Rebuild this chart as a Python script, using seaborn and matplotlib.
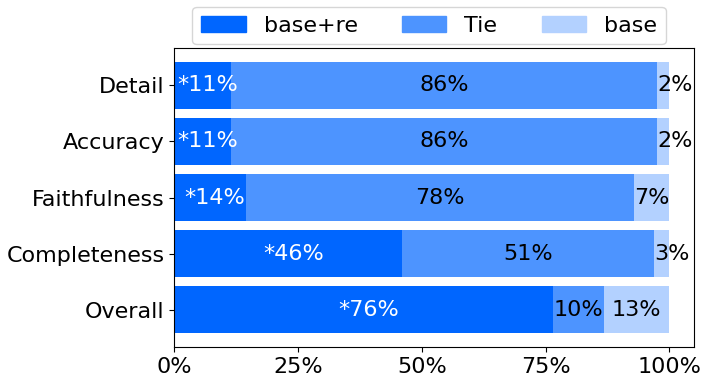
import matplotlib
matplotlib.use("Agg")
import matplotlib.pyplot as plt
import matplotlib.patches as mpatches
import numpy as np
import pandas as pd
import seaborn as sns

categories = ["Detail", "Accuracy", "Faithfulness", "Completeness", "Overall"]
base_re    = [11.4, 11.4, 14.4, 46.0, 76.4]
tie        = [86.1, 86.1, 78.4, 50.9, 10.4]
base       = [2.5, 2.5, 7.2, 3.1, 13.2]
series     = ["base+re", "Tie", "base"]

colors = ["#0066ff", "#4d94ff", "#b3d1ff"]
bar_h = 0.84

sns.set_style("ticks", {"text.color": "black", "axes.labelcolor": "black",
                        "xtick.color": "black", "ytick.color": "black",
                        "axes.edgecolor": "black"})
plt.rcParams["font.family"] = ["DejaVu Sans"]
plt.rcParams["font.size"] = 16

df = pd.DataFrame({"cat": categories,
                   "base+re": np.array(base_re) / 100,
                   "Tie": np.array(tie) / 100,
                   "base": np.array(base) / 100})
df["c1"] = df["base+re"]
df["c2"] = df["c1"] + df["Tie"]
df["c3"] = df["c2"] + df["base"]

fig, ax = plt.subplots(figsize=(7.12, 3.78), dpi=100)
# stacked: draw longest first
for col, color in zip(["c3", "c2", "c1"], colors[::-1]):
    sns.barplot(data=df, x=col, y="cat", color=color, orient="h",
                width=bar_h, saturation=1, linewidth=0, ax=ax)

for i, row in df.iterrows():
    lefts = [0, row["c1"], row["c2"]]
    widths = [row["base+re"], row["Tie"], row["base"]]
    for j, (l, w) in enumerate(zip(lefts, widths)):
        txt = f"{w*100:.0f}%"
        if j == 0:
            ax.annotate("*" + txt, (l + w / 2, i), xytext=(3.6, 0),
                        textcoords="offset points", ha="center", va="center",
                        fontsize=16, color="white")
        elif j == 2 and w < 0.05:
            ax.text(l, i, txt, ha="left", va="center", fontsize=16, color="black")
        else:
            ax.text(l + w / 2, i, txt, ha="center", va="center", fontsize=16,
                    color="black")

# matplotlib-style margins instead of seaborn's categorical limits
n = len(categories)
pad = 0.05 * (n - 1 + bar_h)
ax.set_ylim(n - 1 + bar_h / 2 + pad, -bar_h / 2 - pad)
ax.set_xlim(0, 1.05)
ax.set_xticks([0, 0.25, 0.5, 0.75, 1.0])
ax.set_xticklabels(["0%", "25%", "50%", "75%", "100%"])
ax.set_xlabel("")
ax.set_ylabel("")
ax.tick_params(labelsize=16, colors="black")

handles = [mpatches.Patch(color=c, label=s) for c, s in zip(colors, series)]
ax.legend(handles=handles, loc="lower center", bbox_to_anchor=(0.49, 1.012),
          ncol=3, fontsize=16, frameon=True, columnspacing=2.0,
          handlelength=2.0, borderaxespad=0.0)

fig.subplots_adjust(left=0.245, right=0.975, top=0.873, bottom=0.082)
fig.savefig("out.png", dpi=100)
